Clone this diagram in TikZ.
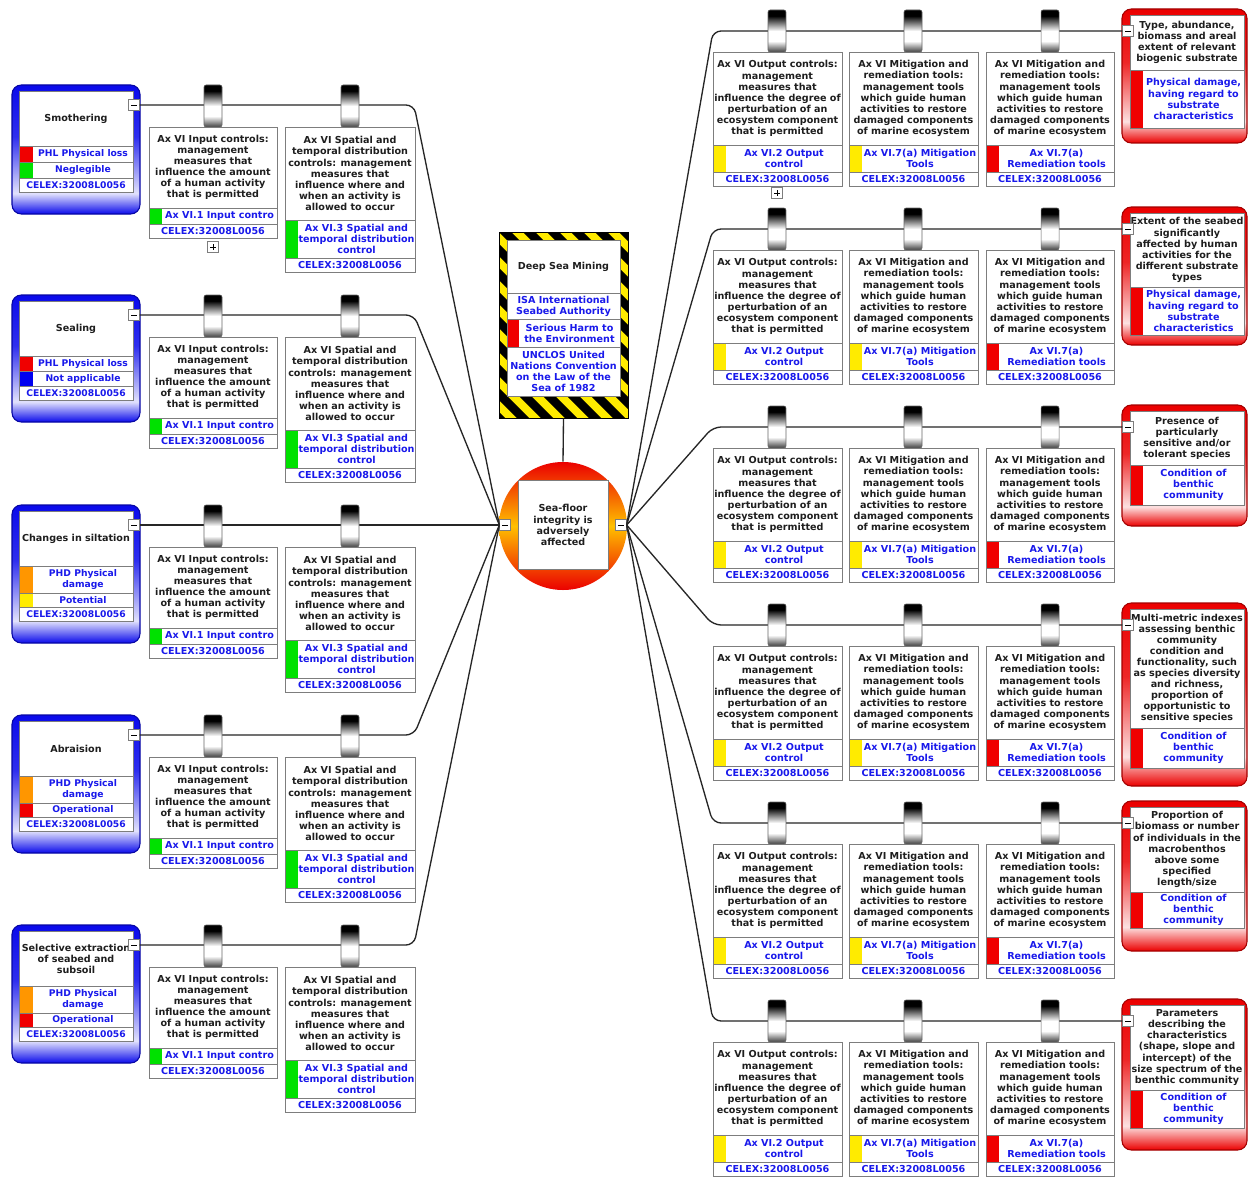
\documentclass[tikz,border=0pt]{standalone}
\usepackage{fontspec}
\newfontfamily\dvs{DejaVu Sans}
\usetikzlibrary{calc}
\definecolor{bluetxt}{RGB}{25,25,235}
\definecolor{ttlcol}{RGB}{30,30,30}
\definecolor{cellline}{RGB}{125,125,125}
\definecolor{mygreen}{RGB}{0,225,0}
\definecolor{myred}{RGB}{240,0,0}
\definecolor{myyellow}{RGB}{255,235,0}
\definecolor{myorange}{RGB}{255,150,0}
\definecolor{myblue}{RGB}{0,0,240}
\definecolor{boxblue}{RGB}{10,10,235}
\definecolor{boxred}{RGB}{235,0,0}
\pgfdeclareverticalshading{blueboxsh}{100bp}{color(0bp)=(boxblue); color(25bp)=(boxblue); color(33bp)=(boxblue!12); color(55bp)=(boxblue!85); color(75bp)=(boxblue); color(100bp)=(boxblue)}
\pgfdeclareverticalshading{redboxsh}{100bp}{color(0bp)=(boxred); color(25bp)=(boxred); color(33bp)=(boxred!12); color(55bp)=(boxred!85); color(75bp)=(boxred); color(100bp)=(boxred)}
\pgfdeclareverticalshading{tubesh}{100bp}{color(0bp)=(black!75); color(25bp)=(black!75); color(38bp)=(white); color(50bp)=(white); color(68bp)=(black); color(100bp)=(black)}
\tikzset{
 ttl/.style={font=\dvs\bfseries\fontsize{7.2}{8.3}\selectfont, text=ttlcol, align=center, inner sep=0pt},
 blu/.style={font=\dvs\bfseries\fontsize{7.2}{8.3}\selectfont, text=bluetxt, align=center, inner sep=0pt},
 blus/.style={font=\dvs\bfseries\fontsize{6.9}{8.1}\selectfont, text=bluetxt, align=center, inner sep=0pt},
 cell/.style={draw=cellline, line width=0.6pt, fill=white},
 cellframe/.style={draw=cellline, line width=0.6pt},
 conn/.style={draw=black!85, line width=1pt, rounded corners=6pt},
 minusb/.style={draw=cellline, fill=white, line width=0.5pt, minimum size=8pt, inner sep=0pt,
   path picture={\draw[black, line width=0.6pt] ([xshift=2pt]path picture bounding box.west) -- ([xshift=-2pt]path picture bounding box.east);}},
 plusb/.style={draw=cellline, fill=white, line width=0.5pt, minimum size=8pt, inner sep=0pt,
   path picture={\draw[black, line width=0.6pt] ([xshift=2pt]path picture bounding box.west) -- ([xshift=-2pt]path picture bounding box.east) ([yshift=2pt]path picture bounding box.south) -- ([yshift=-2pt]path picture bounding box.north);}},
}
% measure box: name, x, ytop, width, h1, text1, h2, colour, text2
\newcommand{\mbx}[9]{%
 \filldraw[cell] (#2,#3) rectangle ++(#4,#5);
 \node[ttl] (#1t) at ({#2+#4/2},{#3+#5/2}) {#6};
 \filldraw[cell] (#2,{#3+#5}) rectangle ++(#4,#7);
 \fill[#8] (#2,{#3+#5}) rectangle ++(13,#7);
 \draw[cellframe] (#2,{#3+#5}) rectangle ++(#4,#7);
 \node[blu] (#1s) at ({#2+(#4+13)/2},{#3+#5+#7/2}) {#9};
 \filldraw[cell] (#2,{#3+#5+#7}) rectangle ++(#4,14);
 \node[blu] (#1c) at ({#2+#4/2},{#3+#5+#7+7}) {CELEX:32008L0056};
}
% hazard (blue) box: name, L, title, c1, t1, h1, c2, t2, h2
\newcommand{\hzb}[9]{%
 \path[shade, shading=blueboxsh, draw=boxblue!70!black, line width=0.8pt, rounded corners=7pt] (12,#2-20) rectangle (140,{#2+41+#6+#9+14+22});
 \filldraw[cell] (19,#2-14) rectangle (133,#2+41);
 \node[ttl] (#1t) at (76,{#2+13.5}) {#3};
 \filldraw[cell] (19,#2+41) rectangle (133,{#2+41+#6});
 \fill[#4] (19,#2+41) rectangle (33,{#2+41+#6});
 \draw[cellframe] (19,#2+41) rectangle (133,{#2+41+#6});
 \node[blus] (#1a) at (83,{#2+41+#6/2}) {#5};
 \filldraw[cell] (19,{#2+41+#6}) rectangle (133,{#2+41+#6+#9});
 \fill[#7] (19,{#2+41+#6}) rectangle (33,{#2+41+#6+#9});
 \draw[cellframe] (19,{#2+41+#6}) rectangle (133,{#2+41+#6+#9});
 \node[blus] (#1b) at (83,{#2+41+#6+#9/2}) {#8};
 \filldraw[cell] (19,{#2+41+#6+#9}) rectangle (133,{#2+41+#6+#9+14});
 \node[blus] (#1c) at (76,{#2+41+#6+#9+7}) {CELEX:32008L0056};
 \node[minusb] (m-#1) at (134,#2) {};
}
% indicator (red) box: name, L, title, th, sub, sh, bottom margin
\newcommand{\ind}[7]{%
 \path[shade, shading=redboxsh, draw=boxred!70!black, line width=0.8pt, rounded corners=7pt] (1122,#2-22) rectangle (1247,{#2-16+#4+#6+#7});
 \filldraw[cell] (1130,#2-16) rectangle (1244,{#2-16+#4});
 \node[ttl] (#1t) at (1187,{#2-16+#4/2}) {#3};
 \filldraw[cell] (1130,{#2-16+#4}) rectangle (1244,{#2-16+#4+#6});
 \fill[myred] (1130,{#2-16+#4}) rectangle (1143,{#2-16+#4+#6});
 \draw[cellframe] (1130,{#2-16+#4}) rectangle (1244,{#2-16+#4+#6});
 \node[blu] (#1s) at (1193.5,{#2-16+#4+#6/2}) {#5};
 \node[minusb] (m-#1) at (1128,#2) {};
}
\newcommand{\tube}[3]{\path[shade, shading=tubesh, draw=black!60, line width=0.4pt, rounded corners=1.5pt] ({#1-9},#2) rectangle ({#1+9},#3);}
\newcommand{\lrow}[2]{%
 \mbx{in#1}{149}{#2+22}{128}{81}{Ax VI Input controls:\\management\\measures that\\influence the amount\\of a human activity\\that is permitted}{16}{mygreen}{Ax VI.1 Input contro}
 \mbx{sp#1}{285}{#2+22}{130}{93}{Ax VI Spatial and\\temporal distribution\\controls: management\\measures that\\influence where and\\when an activity is\\allowed to occur}{38}{mygreen}{Ax VI.3 Spatial and\\temporal distribution\\control}
}
\newcommand{\rrow}[2]{%
 \mbx{out#1}{713}{#2+21}{129}{93}{Ax VI Output controls:\\management\\measures that\\influence the degree of\\perturbation of an\\ecosystem component\\that is permitted}{27}{myyellow}{Ax VI.2 Output\\control}
 \mbx{mit#1}{849}{#2+21}{129}{93}{Ax VI Mitigation and\\remediation tools:\\management tools\\which guide human\\activities to restore\\damaged components\\of marine ecosystem}{27}{myyellow}{Ax VI.7(a) Mitigation\\Tools}
 \mbx{rem#1}{986}{#2+21}{128}{93}{Ax VI Mitigation and\\remediation tools:\\management tools\\which guide human\\activities to restore\\damaged components\\of marine ecosystem}{27}{myred}{Ax VI.7(a)\\Remediation tools}
}
\begin{document}
\begin{tikzpicture}[x=0.75pt,y=-0.75pt]
\useasboundingbox (0,0) rectangle (1248,1177);
\fill[white] (0,0) rectangle (1248,1177);

% left hazard boxes
\hzb{hz1}{105}{Smothering}{myred}{PHL Physical loss}{16}{mygreen}{Neglegible}{16}
\hzb{hz2}{315}{Sealing}{myred}{PHL Physical loss}{15}{myblue}{Not applicable}{15}
\hzb{hz3}{525}{Changes in siltation}{myorange}{PHD Physical\\damage}{27}{myyellow}{Potential}{14}
\hzb{hz4}{735}{Abraision}{myorange}{PHD Physical\\damage}{27}{myred}{Operational}{14}
\hzb{hz5}{945}{Selective extraction\\of seabed and\\subsoil}{myorange}{PHD Physical\\damage}{27}{myred}{Operational}{14}

% right indicator boxes
\ind{id1}{31}{Type, abundance,\\biomass and areal\\extent of relevant\\biogenic substrate}{55}{Physical damage,\\having regard to\\substrate\\characteristics}{58}{15}
\ind{id2}{229}{Extent of the seabed\\significantly\\affected by human\\activities for the\\different substrate\\types}{74}{Physical damage,\\having regard to\\substrate\\characteristics}{48}{10}
\ind{id3}{427}{Presence of\\particularly\\sensitive and/or\\tolerant species}{54}{Condition of\\benthic\\community}{40}{21}
\ind{id4}{625}{Multi-metric indexes\\assessing benthic\\community\\condition and\\functionality, such\\as species diversity\\and richness,\\proportion of\\opportunistic to\\sensitive species}{119}{Condition of\\benthic\\community}{40}{18}
\ind{id5}{823}{Proportion of\\biomass or number\\of individuals in the\\macrobenthos\\above some\\specified\\length/size}{85}{Condition of\\benthic\\community}{36}{23}
\ind{id6}{1021}{Parameters\\describing the\\characteristics\\(shape, slope and\\intercept) of the\\size spectrum of the\\benthic community}{85}{Condition of\\benthic\\community}{38}{22}

% Deep Sea Mining box
\begin{scope}
 \clip (499,232) rectangle (628,418);
 \fill[myyellow] (499,232) rectangle (628,418);
 \foreach \i in {-9,...,6} \draw[black, line width=6.4pt] ({499+24*\i},226) -- ++(200,200);
\end{scope}
\node[draw=black, line width=0.6pt, minimum width=96.75pt, minimum height=139.5pt, inner sep=0pt] (dsm) at (563.5,325) {};
\filldraw[cell] (507,240) rectangle (620,293);
\node[ttl] (dsmt) at (563.5,266.5) {Deep Sea Mining};
\filldraw[cell] (507,293) rectangle (620,319);
\node[blu] (dsma) at (563.5,306) {ISA International\\Seabed Authority};
\filldraw[cell] (507,319) rectangle (620,347);
\fill[myred] (507,319) rectangle (519,347);
\draw[cellframe] (507,319) rectangle (620,347);
\node[blu] (dsmb) at (569.5,333) {Serious Harm to\\the Environment};
\filldraw[cell] (507,347) rectangle (620,396);
\node[blu] (dsmc) at (563.5,371.5) {UNCLOS United\\Nations Convention\\on the Law of the\\Sea of 1982};

% central circle
\node[circle, minimum size=96pt, inner sep=0pt, top color=boxred, bottom color=boxred, middle color=myorange!60!yellow] (circ) at (563,526) {};
\node[ttl, draw=cellline, fill=white, line width=0.6pt, minimum width=67.5pt, minimum height=66.75pt] (sfi) at (563,525) {Sea-floor\\integrity is\\adversely\\affected};
\node[minusb] (cl) at (505,525) {};
\node[minusb] (cr) at (621,525) {};

% connectors
\draw[conn] (dsm.south) -- (circ.north);
\foreach \r/\L in {1/105,2/315,3/525,4/735,5/945} {
 \coordinate (lb\r) at (414,\L);
 \draw[conn] (m-hz\r.east) -- (lb\r) -- (cl.west);
}
\foreach \r/\L in {1/31,2/229,3/427,4/625,5/823,6/1021} {
 \coordinate (rb\r) at (713,\L);
 \draw[conn] (cr.east) -- (rb\r) -- (m-id\r.west);
}

% tubes
\foreach \L in {105,315,525,735,945} {\tube{213}{\L-20}{\L+22}\tube{350}{\L-20}{\L+22}}
\foreach \L in {31,229,427,625,823,1021} {\tube{777}{\L-21}{\L+21}\tube{913}{\L-21}{\L+21}\tube{1050}{\L-21}{\L+21}}

% measure boxes
\lrow{1}{105}
\lrow{2}{315}
\lrow{3}{525}
\lrow{4}{735}
\lrow{5}{945}
\rrow{1}{31}
\rrow{2}{229}
\rrow{3}{427}
\rrow{4}{625}
\rrow{5}{823}
\rrow{6}{1021}

\node[plusb] (pl1) at (213,247) {};
\node[plusb] (pl2) at (777,193) {};
\end{tikzpicture}
\end{document}
